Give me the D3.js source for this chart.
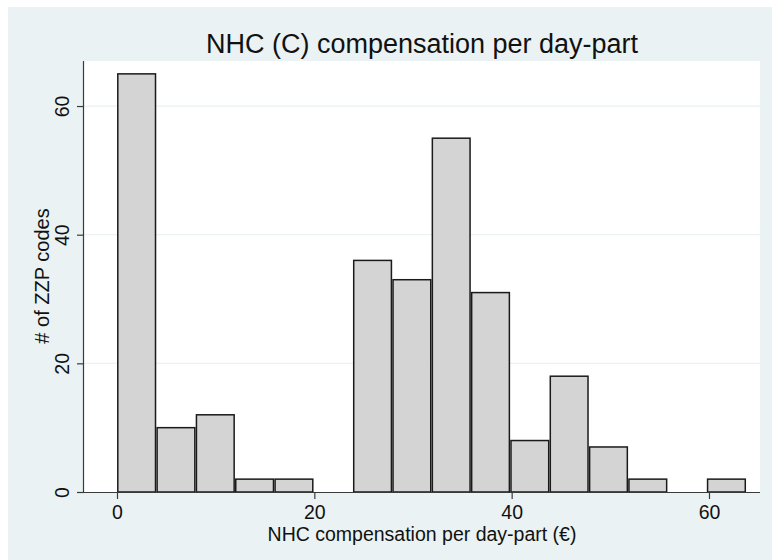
<!DOCTYPE html>
<html>
<head>
<meta charset="utf-8">
<script src="https://cdn.jsdelivr.net/npm/d3@7"></script>
<style>
  html, body { margin: 0; padding: 0; background: #ffffff; }
  svg { display: block; font-family: "Liberation Sans", Arial, sans-serif; }
</style>
</head>
<body>
<svg id="chart" width="772" height="560"></svg>
<script>
// ---- data ----
const titleText = "NHC (C) compensation per day-part";
const xAxisTitle = "NHC compensation per day-part (\u20AC)";
const yAxisTitle = "# of ZZP codes";
const binLefts = [0, 3.985, 7.97, 11.955, 15.94, 19.925, 23.91, 27.895, 31.88, 35.865, 39.85, 43.835, 47.82, 51.805, 55.79, 59.775];
const binWidth = 3.985;
const counts = [65, 10, 12, 2, 2, 0, 36, 33, 55, 31, 8, 18, 7, 2, 0, 2];
const xTicks = [0, 20, 40, 60];
const yTicks = [0, 20, 40, 60];

// ---- layout ----
const W = 772, H = 560;
const plot = { left: 84, right: 760, top: 61, bottom: 492 };
const svg = d3.select("#chart");

// outer graph region
svg.append("rect").attr("x", 0).attr("y", 0).attr("width", W).attr("height", H).attr("fill", "#ffffff");
svg.append("rect").attr("x", 8).attr("y", 7).attr("width", W - 8).attr("height", H - 7).attr("fill", "#eaf2f3");

// plot region
svg.append("rect").attr("x", plot.left).attr("y", plot.top)
  .attr("width", plot.right - plot.left).attr("height", plot.bottom - plot.top).attr("fill", "#ffffff");

const x = d3.scaleLinear().domain([-3.345, 65.17]).range([plot.left, plot.right]);
const y = d3.scaleLinear().domain([0, 67]).range([plot.bottom, plot.top]);

// gridlines
svg.append("g").selectAll("line").data(yTicks.filter(d => d > 0)).join("line")
  .attr("x1", plot.left).attr("x2", plot.right)
  .attr("y1", d => y(d)).attr("y2", d => y(d))
  .attr("stroke", "#eaf2f3").attr("stroke-width", 1.2);

// bars
const bins = counts.map((c, i) => ({ x0: binLefts[i], x1: binLefts[i] + binWidth, c }));
svg.append("g").selectAll("rect").data(bins.filter(d => d.c > 0)).join("rect")
  .attr("x", d => x(d.x0) + 0.8)
  .attr("width", d => x(d.x1) - x(d.x0) - 1.6)
  .attr("y", d => y(d.c))
  .attr("height", d => y(0) - y(d.c))
  .attr("fill", "#d4d4d4")
  .attr("stroke", "#1a1a1a")
  .attr("stroke-width", 1.5);

// x axis
const xAxis = d3.axisBottom(x).tickValues(xTicks).tickSize(7).tickPadding(6).tickFormat(d3.format("d"));
const gx = svg.append("g").attr("transform", `translate(0,${plot.bottom})`).call(xAxis);
gx.select(".domain").attr("d", `M${plot.left},0.5H${plot.right}`).attr("stroke", "#3a3a3a").attr("stroke-width", 1.2);
gx.selectAll(".tick line").attr("stroke", "#3a3a3a").attr("stroke-width", 1.2);
gx.selectAll(".tick text").attr("font-size", 19.5).attr("fill", "#111").attr("font-family", "Liberation Sans, Arial, sans-serif");

// y axis
const yAxis = d3.axisLeft(y).tickValues(yTicks).tickSize(7).tickFormat(d3.format("d"));
const gy = svg.append("g").attr("transform", `translate(${plot.left},0)`).call(yAxis);
gy.select(".domain").attr("d", `M-0.5,${plot.bottom}V${plot.top}`).attr("stroke", "#3a3a3a").attr("stroke-width", 1.2);
gy.selectAll(".tick line").attr("stroke", "#3a3a3a").attr("stroke-width", 1.2);
gy.selectAll(".tick text")
  .attr("font-size", 19.5).attr("fill", "#111").attr("font-family", "Liberation Sans, Arial, sans-serif")
  .attr("x", null).attr("dy", null)
  .attr("text-anchor", "middle")
  .attr("transform", "translate(-15,0) rotate(-90)");

// titles
svg.append("text").attr("x", 422).attr("y", 53).attr("text-anchor", "middle")
  .attr("font-size", 27).attr("fill", "#111").text(titleText);
svg.append("text").attr("x", (plot.left + plot.right) / 2).attr("y", 541).attr("text-anchor", "middle")
  .attr("font-size", 19.5).attr("fill", "#111").text(xAxisTitle);
svg.append("text").attr("transform", `translate(49,276) rotate(-90)`)
  .attr("text-anchor", "middle").attr("font-size", 20).attr("fill", "#111").text(yAxisTitle);
</script>
</body>
</html>
